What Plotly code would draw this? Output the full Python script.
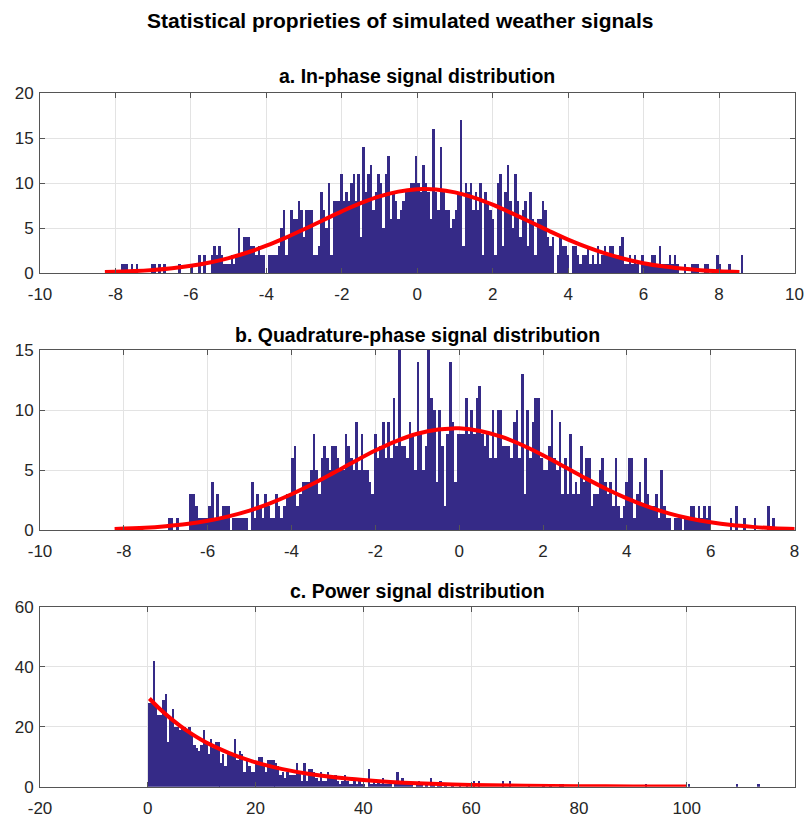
import plotly.graph_objects as go

# ---------------- data ----------------
# a. In-phase histogram (256 bins)
a_start = -8.25
a_width = 0.066
a_counts = [
    0, 0, 0, 0, 0, 0,
    1, 1, 1, 0, 1, 0,
    1, 0, 0, 0, 0, 0,
    1, 1, 0, 1, 0, 1,
    0, 0, 0, 0, 0, 1,
    0, 0, 0, 0, 1, 0,
    0, 2, 0, 2, 0, 0,
    2, 3, 2, 3, 2, 1,
    1, 1, 2, 1, 2, 5,
    2, 4, 4, 4, 3, 3,
    2, 3, 2, 2, 0, 2,
    2, 2, 2, 3, 5, 7,
    2, 4, 7, 6, 6, 8,
    7, 4, 7, 7,
    7, 2, 2, 3, 9, 7,
    5, 10, 2, 8, 8, 8,
    11, 8, 9, 8, 10, 11,
    8, 11, 4, 14, 9, 11,
    12, 7, 9, 11, 10, 5,
    11, 13, 6, 9, 8, 6,
    7, 8, 9, 9, 10, 10,
    13, 10, 9, 12, 10, 9,
    6, 16, 9, 7, 14, 9,
    7, 7, 5, 6, 7, 9,
    17, 3, 10, 9, 10, 7,
    9, 7, 10, 2, 9, 8,
    7, 6, 2, 10, 11, 3,
    9, 12, 8, 5, 11, 8,
    4, 7, 8, 3,
    9, 6, 2, 6, 6, 8,
    7, 4, 3, 4, 0, 2,
    4, 3, 3, 2, 0, 3,
    3, 2, 1, 2, 2, 3,
    1, 2, 1, 3, 1, 2,
    3, 2, 3, 3, 2, 2,
    3, 4, 1, 1, 2, 1,
    2, 1, 0, 2, 1, 1,
    1, 2, 2, 1, 3, 1,
    1, 1, 2, 1, 2, 1,
    0, 0, 1, 0, 0, 1,
    1, 1, 0, 0, 1, 1,
    0, 0, 0, 2, 1, 0,
    0, 0, 1, 0, 0, 0,
    0, 2,
]
a_fit_x = [-8.28, -7.5, -7, -6.5, -6, -5.5, -5, -4.5, -4, -3.5, -3, -2.5, -2, -1.5, -1, -0.5,
           0, 0.2, 0.5, 1, 1.5, 2, 2.5, 3, 3.5, 4, 4.5, 5, 5.5, 6, 6.5, 7, 7.5, 8, 8.54]
a_fit_y = [0.10, 0.21, 0.34, 0.53, 0.80, 1.17, 1.66, 2.28, 3.03, 3.90, 4.86, 5.86, 6.85, 7.76, 8.51, 9.04,
           9.31, 9.33, 9.28, 8.96, 8.38, 7.59, 6.66, 5.66, 4.66, 3.71, 2.87, 2.15, 1.56, 1.09, 0.74, 0.49, 0.31, 0.19, 0.11]

# b. Quadrature-phase histogram (256 bins)
b_start = -8.22
b_width = 0.0638
b_counts = [
    0, 0, 0, 0, 0, 0, 0, 0, 0, 0,
    0, 0, 0, 0, 0, 0, 0, 0, 0, 0,
    1, 1, 0, 1, 0, 0,
    0, 0, 3, 3, 2, 1,
    1, 1, 1, 2, 4, 1,
    3, 1, 2, 2, 2, 0,
    1, 1, 1, 1, 1, 1,
    0, 4, 1, 3, 2, 1,
    3, 2, 1, 1, 3, 2,
    1, 2, 3, 3, 6, 7,
    2, 3, 4, 4, 4, 5,
    8, 5, 3, 6, 7, 6,
    5, 7, 7, 6, 5, 5,
    8, 7, 6, 5, 9, 5,
    8, 5, 5, 4, 3, 8,
    6, 7, 9, 6, 9, 6,
    11, 7, 15, 7, 7, 6,
    9, 8, 5, 14, 8, 5,
    7, 15, 11, 10, 4, 10,
    7, 2, 8, 14, 9, 4,
    8, 8, 8, 11, 8, 10,
    8, 11, 12, 8, 7, 8,
    6, 10, 6, 10, 10, 7,
    7, 7, 6, 9, 10, 6,
    13, 3, 10, 6, 9, 11,
    11, 6, 5, 5, 7, 10,
    6, 5, 9, 3, 6, 3,
    8, 3, 4, 3, 7, 4,
    6, 6, 2, 3, 3, 5,
    6, 4, 3, 4, 2, 6,
    2, 1, 2, 4, 6, 6,
    1, 3, 4, 2, 6, 3,
    2, 2, 3, 1, 5, 2,
    1, 1, 0, 1, 1, 1,
    0, 1, 1, 2, 2, 1,
    2, 1, 2, 1, 2, 0,
    0, 0, 0, 0, 0, 0,
    1, 0, 2, 0, 0, 1,
    0, 0, 0, 1, 0, 0,
    0, 0, 2, 0, 1, 0,
    0, 0, 0, 0, 0, 0, 0, 0,
]
b_fit_x = [-8.22, -7.5, -7, -6.5, -6, -5.5, -5, -4.5, -4, -3.5, -3, -2.5, -2, -1.5, -1, -0.5,
           -0.11, 0, 0.5, 1, 1.5, 2, 2.5, 3, 3.5, 4, 4.5, 5, 5.5, 6, 6.5, 7, 7.5, 8.05]
b_fit_y = [0.09, 0.19, 0.32, 0.50, 0.77, 1.14, 1.62, 2.24, 2.98, 3.83, 4.76, 5.71, 6.62, 7.41, 8.02, 8.38,
           8.47, 8.47, 8.25, 7.78, 7.08, 6.23, 5.29, 4.34, 3.44, 2.64, 1.95, 1.39, 0.96, 0.64, 0.41, 0.26, 0.15, 0.08]

# c. Power histogram (256 bins)
c_start = 0.0
c_width = 0.4436
c_counts = [
    28, 28, 42, 27, 24, 24,
    29, 31, 15, 23, 26, 20,
    20, 19, 20, 20, 19, 20,
    18, 14, 13, 12, 14, 19,
    15, 11, 16, 13, 15, 15,
    8, 11, 7, 11, 11, 11,
    16, 9, 12, 11, 5, 9,
    7, 5, 5, 8, 10, 10,
    7, 5, 9, 9, 9, 8,
    7, 4, 5, 3, 5, 4,
    4, 4, 8, 5, 2, 8,
    2, 6, 6, 5, 3, 2,
    5, 2, 2, 5, 4, 3,
    4, 2, 1, 2, 4, 2,
    1, 1, 2, 1, 2, 1,
    1, 0, 6, 1, 2, 1,
    2, 1, 3, 1, 1, 1,
    0, 1, 5, 2, 3, 2,
    2, 1, 1, 0, 1, 2,
    1, 0, 1, 0, 3, 1,
    0, 1, 2, 0, 1, 0,
    0, 1, 0, 0, 1, 0,
    0, 1, 0, 0, 2, 0,
    2, 0, 0, 0, 0, 0,
    0, 0, 0, 0, 2, 0,
    0, 2, 0, 0, 0, 0,
    0, 0, 0, 1, 0, 0,
    0, 0, 0, 1, 0, 0,
    1, 0, 0, 0, 1, 1,
    0, 0, 0, 0, 0, 0, 0, 0, 0, 0,
    0, 0, 0, 0, 0, 0, 0, 0, 0, 0,
    0, 0, 0, 0, 0, 0, 0, 0, 0, 0,
    0, 0, 0, 0, 1, 0, 0, 0, 0, 0,
    0, 0, 0, 0, 0, 0, 0, 0, 0, 0,
    0, 0, 1, 0, 0, 0, 0, 0, 0, 0,
    0, 0, 0, 0, 0, 0, 0, 0, 0, 0,
    0, 0, 1, 0, 0, 0, 0, 0, 0, 0,
    0, 1,
]
c_fit_x = [0.3, 2, 4, 6, 8, 10, 12, 15, 18, 21, 25, 30, 35, 40, 45, 50, 60, 70, 80, 90, 100]
c_fit_y = [29.4, 26.3, 23.1, 20.3, 17.8, 15.6, 13.7, 11.3, 9.25, 7.6, 5.85, 4.22, 3.04, 2.20, 1.58,
           1.14, 0.59, 0.31, 0.16, 0.08, 0.04]

main_title = "Statistical proprieties of simulated weather signals"
titles = ["a. In-phase signal distribution",
          "b. Quadrature-phase signal distribution",
          "c. Power signal distribution"]
x_ticks = [[-10, -8, -6, -4, -2, 0, 2, 4, 6, 8, 10],
           [-10, -8, -6, -4, -2, 0, 2, 4, 6, 8],
           [-20, 0, 20, 40, 60, 80, 100, 120]]
y_ticks = [[0, 5, 10, 15, 20],
           [0, 5, 10, 15],
           [0, 20, 40, 60]]

# ---------------- styling ----------------
W, H = 808, 818
BAR = "#352a87"
RED = "#ff0000"
FONT = "Liberation Sans"
AX = "#262626"

x_dom = [40 / W, 794.5 / W]
y_px = [(93, 273), (350, 530), (606.7, 786.7)]
title_px = [76, 335, 591]

def centers(start, width, counts):
    return [start + width * (i + 0.5) for i in range(len(counts))]

fig = go.Figure()
panels = [
    (a_counts, a_start, a_width, a_fit_x, a_fit_y),
    (b_counts, b_start, b_width, b_fit_x, b_fit_y),
    (c_counts, c_start, c_width, c_fit_x, c_fit_y),
]
for k, (cnt, st, wd, fx, fy) in enumerate(panels):
    xa = "x" if k == 0 else f"x{k+1}"
    ya = "y" if k == 0 else f"y{k+1}"
    fig.add_trace(go.Bar(x=centers(st, wd, cnt), y=cnt, width=wd * 1.01,
                         marker=dict(color=BAR, line=dict(width=0)),
                         xaxis=xa, yaxis=ya, showlegend=False))
    fig.add_trace(go.Scatter(x=fx, y=fy, mode="lines",
                             line=dict(color=RED, width=4, shape="spline"),
                             xaxis=xa, yaxis=ya, showlegend=False))

    axis_common = dict(showline=True, linecolor="#555555", linewidth=1,
                       mirror="ticks", ticks="inside", ticklen=5, tickcolor="#555555",
                       showgrid=True, gridcolor="#e3e3e3", gridwidth=1, zeroline=False,
                       automargin=False,
                       tickfont=dict(family=FONT, size=17, color=AX))
    top, bot = y_px[k]
    xkey = "xaxis" if k == 0 else f"xaxis{k+1}"
    ykey = "yaxis" if k == 0 else f"yaxis{k+1}"
    xt = x_ticks[k]
    yt = y_ticks[k]
    fig.update_layout(**{
        xkey: dict(domain=x_dom, anchor=ya, range=[xt[0], xt[-1]],
                   tickmode="array", tickvals=xt, ticktext=[str(v) for v in xt],
                   ticklabelstandoff=6, **axis_common),
        ykey: dict(domain=[1 - bot / H, 1 - top / H], anchor=xa, range=[yt[0], yt[-1]],
                   tickmode="array", tickvals=yt, ticktext=[str(v) for v in yt],
                   ticklabelstandoff=2, **axis_common),
    })
    fig.add_annotation(text=f"<b>{titles[k]}</b>", xref="paper", yref="paper",
                       x=(40 + 794.5) / 2 / W, y=1 - title_px[k] / H, showarrow=False,
                       xanchor="center", yanchor="middle",
                       font=dict(family=FONT, size=19.5, color="#000000"))

fig.add_annotation(text=f"<b>{main_title}</b>", xref="paper", yref="paper",
                   x=400 / W, y=1 - 20 / H, showarrow=False, xanchor="center", yanchor="middle",
                   font=dict(family=FONT, size=21, color="#000000"))

fig.update_layout(width=W, height=H, margin=dict(l=0, r=0, t=0, b=0),
                  paper_bgcolor="white", plot_bgcolor="white", bargap=0)

fig.write_html("out.html")
